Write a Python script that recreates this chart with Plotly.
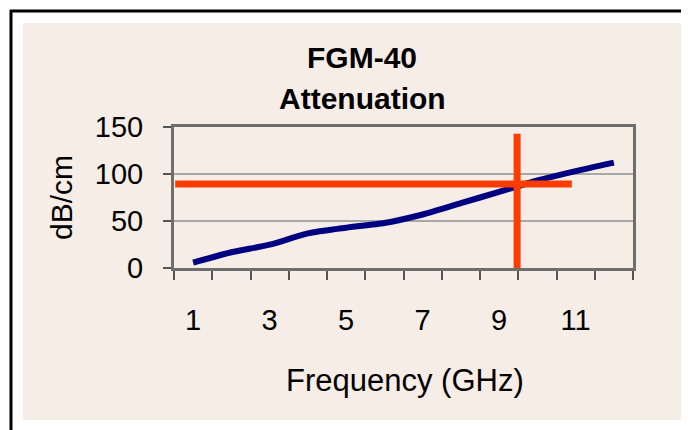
import plotly.graph_objects as go

# ---- data ----
freq_ghz = [1, 2, 3, 4, 5, 6, 7, 8, 9, 10, 11, 12]
atten_db_cm = [6, 17, 25, 37, 43, 48, 57, 69, 81, 93, 103, 112]
x_tick_labels = [1, 3, 5, 7, 9, 11]
y_tick_values = [0, 50, 100, 150]
# red reading cross-hair (frequency ~9.5 GHz, ~89 dB/cm)
h_marker_x = [0.53, 10.9]
h_marker_y = [89.4, 89.4]
v_marker_x = [9.47, 9.47]
v_marker_y = [-8.5, 142.5]
# small hand-drawn scale dashes next to the y axis
dash_values = [105, 95, 85, 75, 65]

W, H = 689, 430
OFF = 8  # page body margin
FONT = "Liberation Sans"


def px_x(p):
    return (p - OFF) / W


def px_y(p):
    return 1 - (p - OFF) / H


boundaries = [c - 0.5 for c in freq_ghz] + [freq_ghz[-1] + 0.5]

fig = go.Figure()

fig.add_trace(go.Scatter(
    x=freq_ghz, y=atten_db_cm, mode="lines",
    line=dict(color="#000080", width=6, shape="spline", smoothing=0.6),
    showlegend=False, hoverinfo="skip"))

fig.add_trace(go.Scatter(
    x=h_marker_x, y=h_marker_y, mode="lines",
    line=dict(color="#FF3C00", width=7), cliponaxis=False,
    showlegend=False, hoverinfo="skip"))

fig.add_trace(go.Scatter(
    x=v_marker_x, y=v_marker_y, mode="lines",
    line=dict(color="#FF3C00", width=7), cliponaxis=False,
    showlegend=False, hoverinfo="skip"))

fig.add_trace(go.Scatter(
    x=[0.4] * len(dash_values), y=dash_values, mode="markers",
    marker=dict(symbol="line-ew", size=15, line=dict(color="black", width=2)),
    cliponaxis=False, showlegend=False, hoverinfo="skip"))

shapes = [
    # beige chart panel
    dict(type="rect", xref="paper", yref="paper",
         x0=px_x(23), x1=px_x(687), y0=px_y(420), y1=px_y(23),
         fillcolor="#F6EDE6", line=dict(width=0), layer="below"),
    # black frame lines
    dict(type="line", xref="paper", yref="paper",
         x0=px_x(11), x1=px_x(11), y0=px_y(10), y1=px_y(440),
         line=dict(color="black", width=3)),
    dict(type="line", xref="paper", yref="paper",
         x0=px_x(10), x1=px_x(700), y0=px_y(11), y1=px_y(11),
         line=dict(color="black", width=3)),
]

annotations = [
    dict(text="<b>FGM-40</b>", x=px_x(362), y=px_y(57.5), xref="paper", yref="paper",
         showarrow=False, xanchor="center", yanchor="middle",
         font=dict(family=FONT, size=30, color="black")),
    dict(text="<b>Attenuation</b>", x=px_x(362.5), y=px_y(98.5), xref="paper", yref="paper",
         showarrow=False, xanchor="center", yanchor="middle",
         font=dict(family=FONT, size=30, color="black")),
    dict(text="Frequency (GHz)", x=px_x(405), y=px_y(380), xref="paper", yref="paper",
         showarrow=False, xanchor="center", yanchor="middle",
         font=dict(family=FONT, size=31, color="black")),
    dict(text="dB/cm", x=px_x(61), y=px_y(198), xref="paper", yref="paper",
         showarrow=False, xanchor="center", yanchor="middle", textangle=-90,
         font=dict(family=FONT, size=30, color="black")),
]

fig.update_layout(
    width=W, height=H,
    margin=dict(l=0, r=0, t=0, b=0, autoexpand=False),
    paper_bgcolor="white",
    plot_bgcolor="white",
    showlegend=False,
    shapes=shapes,
    annotations=annotations,
    font=dict(family=FONT, size=29, color="black"),
    xaxis=dict(
        automargin=False,
        domain=[px_x(174), px_x(633)],
        range=[boundaries[0], boundaries[-1]],
        tickmode="array", tickvals=x_tick_labels,
        ticktext=[str(v) for v in x_tick_labels],
        ticks="", ticklabelstandoff=24,
        tickfont=dict(family=FONT, size=29, color="black"),
        showgrid=False, zeroline=False,
        showline=True, linecolor="#6E6E6E", linewidth=3, mirror=True,
        minor=dict(tickmode="array", tickvals=boundaries, ticks="outside",
                   ticklen=9, tickwidth=2, tickcolor="#555555", showgrid=False),
        fixedrange=True,
    ),
    yaxis=dict(
        automargin=False,
        domain=[px_y(268.3), px_y(126.7)],
        range=[0, 150],
        tickmode="array", tickvals=y_tick_values,
        ticks="outside", ticklen=8, tickwidth=2, tickcolor="#555555",
        ticklabelstandoff=14,
        tickfont=dict(family=FONT, size=29, color="black"),
        showgrid=True, gridcolor="#A8A8A8", gridwidth=2,
        zeroline=False,
        showline=True, linecolor="#6E6E6E", linewidth=3, mirror=True,
        fixedrange=True,
    ),
)

fig.write_html("out.html")
